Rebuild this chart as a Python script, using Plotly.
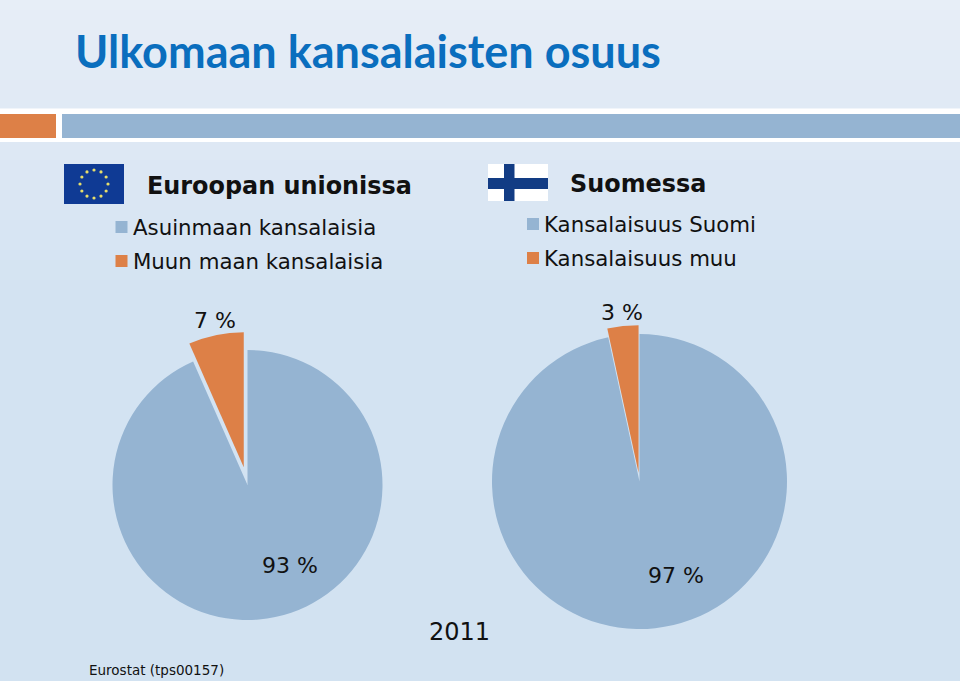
import math
import plotly.graph_objects as go

TITLE = "Ulkomaan kansalaisten osuus"
EU_HEAD = "Euroopan unionissa"
FI_HEAD = "Suomessa"
EU_LABELS = ["Asuinmaan kansalaisia", "Muun maan kansalaisia"]
FI_LABELS = ["Kansalaisuus Suomi", "Kansalaisuus muu"]
EU_VALUES = [93.4, 6.6]
FI_VALUES = [96.6, 3.4]
YEAR = "2011"
SOURCE = "Eurostat (tps00157)"
BLUE = "#95B4D2"
ORANGE = "#DD8047"
W, H = 960, 681

def px(x): return x / W
def py(y): return 1 - y / H

def rect(x0, y0, x1, y1, color, layer="below"):
    return dict(type="rect", xref="paper", yref="paper", x0=px(x0), x1=px(x1),
                y0=py(y0), y1=py(y1), fillcolor=color, line_width=0, layer=layer)

def note(x, y, text, size, anchor="left", family="DejaVu Sans", color="#111111", bold=False):
    t = f"<b>{text}</b>" if bold else text
    return dict(xref="paper", yref="paper", x=px(x), y=py(y), text=t, showarrow=False,
                xanchor=anchor, yanchor="middle", font=dict(family=family, size=size, color=color))

def bg(y):
    stops = [(0, (231, 238, 247)), (140, (222, 232, 244)), (300, (211, 227, 242)), (681, (210, 226, 241))]
    for (y0, c0), (y1, c1) in zip(stops, stops[1:]):
        if y <= y1:
            f = (y - y0) / (y1 - y0)
            return tuple(round(a + (b - a) * f) for a, b in zip(c0, c1))
    return stops[-1][1]

shapes = []
for i in range(68):
    shapes.append(rect(0, i * 10, W, min(H, (i + 1) * 10) + 1, f"rgb{bg(i * 10 + 5)}"))
# header strip
shapes += [rect(0, 108.5, W, 142, "#FFFFFF"), rect(0, 114, 56, 138, ORANGE), rect(62, 114, W, 138, BLUE)]
# EU flag
shapes.append(rect(64, 164, 124, 204, "#0F3A94"))
for k in range(12):
    a = k * math.pi / 6
    cx, cy = 94 + 14 * math.sin(a), 184 - 14 * math.cos(a)
    shapes.append(dict(type="circle", xref="paper", yref="paper", x0=px(cx - 1.6), x1=px(cx + 1.6),
                       y0=py(cy + 1.6), y1=py(cy - 1.6), fillcolor="#E8DF6A", line_width=0, layer="below"))
# Finnish flag
shapes += [rect(488, 164, 548, 201, "#FFFFFF"), rect(504, 164, 514.5, 201, "#123C84"), rect(488, 178, 548, 189, "#123C84")]
# legend swatches
shapes += [rect(115.5, 221, 127.5, 233, BLUE), rect(115.5, 255, 127.5, 267, ORANGE),
           rect(527, 218, 539, 230, BLUE), rect(527, 252, 539, 264, ORANGE)]

annotations = [
    note(73, 51, TITLE, 45, family="Lato", color="#0A6EBE", bold=True),
    note(145, 186, EU_HEAD, 23.9, bold=True),
    note(568, 184, FI_HEAD, 23.9, bold=True),
    note(131, 228, EU_LABELS[0], 21.3), note(131, 261, EU_LABELS[1], 21.3),
    note(542, 224, FI_LABELS[0], 21.3), note(542, 258, FI_LABELS[1], 21.3),
    note(215, 320, f"{round(EU_VALUES[1])} %", 22, "center"),
    note(290, 565, f"{round(EU_VALUES[0])} %", 22, "center"),
    note(622, 312, f"{round(FI_VALUES[1])} %", 22, "center"),
    note(676, 575, f"{round(FI_VALUES[0])} %", 22, "center"),
    note(459, 632, YEAR, 24, "center"),
    note(87, 670, SOURCE, 13.5),
]

def dom(cx, cy, half):
    return dict(x=[px(cx - half), px(cx + half)], y=[py(cy + half), py(cy - half)])

fig = go.Figure()
fig.add_trace(go.Pie(labels=EU_LABELS, values=EU_VALUES, sort=False, direction="clockwise", rotation=0,
                     pull=[0, 0.135], textinfo="none", hoverinfo="label+percent", showlegend=False,
                     marker=dict(colors=[BLUE, ORANGE], line=dict(width=0)),
                     domain=dom(247.5, 485, 135 * 1.135)))
fig.add_trace(go.Pie(labels=FI_LABELS, values=FI_VALUES, sort=False, direction="clockwise", rotation=0,
                     pull=[0, 0.06], textinfo="none", hoverinfo="label+percent", showlegend=False,
                     marker=dict(colors=[BLUE, ORANGE], line=dict(width=0)),
                     domain=dom(639.5, 481.5, 147.5 * 1.06)))
fig.update_layout(width=W, height=H, margin=dict(l=0, r=0, t=0, b=0), paper_bgcolor="#DCE7F5",
                  plot_bgcolor="rgba(0,0,0,0)", shapes=shapes, annotations=annotations, showlegend=False)
fig.write_html("out.html", config=dict(displayModeBar=False),
               post_script="document.body.style.margin='0';document.body.style.overflow='hidden';")
